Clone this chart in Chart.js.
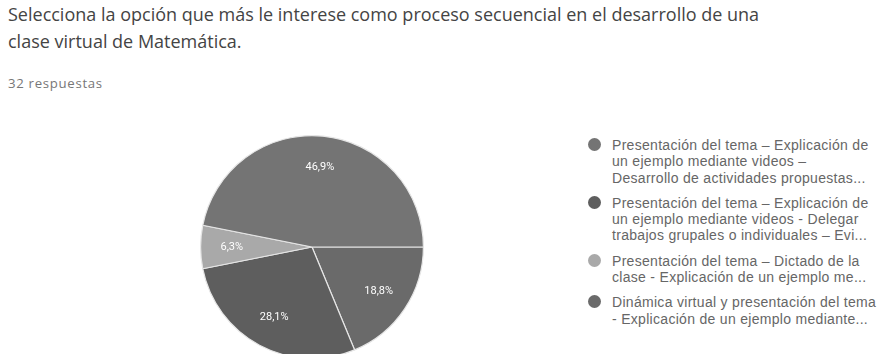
<!DOCTYPE html>
<html>
<head>
<meta charset="utf-8">
<script src="https://cdn.jsdelivr.net/npm/chart.js@4"></script>
<style>
  html, body { margin: 0; padding: 0; background: #fff; }
  body { width: 884px; height: 354px; overflow: hidden; position: relative; font-family: Roboto, Arial, sans-serif; }
  .titulo { position: absolute; left: 8px; top: 1px; width: 876px; font-family: "Open Sans", sans-serif; font-size: 18px; line-height: 27px; color: #444; white-space: nowrap; }
  .total { position: absolute; left: 8px; top: 74px; font-family: "Open Sans", sans-serif; font-size: 13.2px; letter-spacing: 0.7px; color: #777; }
  .pie { position: absolute; left: 200px; top: 135px; width: 224px; height: 224px; }
  .leyenda { position: absolute; left: 588px; top: 137px; width: 296px; }
  .item { position: relative; padding-left: 24px; margin-bottom: 9px; font-family: "Liberation Sans", Arial, sans-serif; font-size: 14px; letter-spacing: 0.3px; line-height: 16.3px; color: #666; white-space: nowrap; }
  .item i { position: absolute; left: 0; top: 1px; width: 13px; height: 13px; border-radius: 50%; }
</style>
</head>
<body>
<div class="titulo">Selecciona la opción que más le interese como proceso secuencial en el desarrollo de una<br>clase virtual de Matemática.</div>
<div class="total">32 respuestas</div>
<div class="pie"><canvas id="torta"></canvas></div>
<div class="leyenda" id="leyenda"></div>
<script>
// opciones, tal como aparecen en la leyenda (texto ya recortado)
const opciones = [
  ['Presentación del tema – Explicación de', 'un ejemplo mediante videos –', 'Desarrollo de actividades propuestas...'],
  ['Presentación del tema – Explicación de', 'un ejemplo mediante videos - Delegar', 'trabajos grupales o individuales – Evi...'],
  ['Presentación del tema – Dictado de la', 'clase - Explicación de un ejemplo me...'],
  ['Dinámica virtual y presentación del tema', '- Explicación de un ejemplo mediante...']
];
const respuestas = [15, 9, 2, 6];
const colores = ['#747474', '#5e5e5e', '#a9a9a9', '#6a6a6a'];
// orden en que se dibujan las porciones, empezando a las 3 en punto
const ordenTorta = [3, 1, 2, 0];

const total = respuestas.reduce((a, b) => a + b, 0);
const pct = v => (v / total * 100).toFixed(1).replace('.', ',') + '%';

// leyenda
const ley = document.getElementById('leyenda');
opciones.forEach((lineas, i) => {
  const d = document.createElement('div');
  d.className = 'item';
  d.innerHTML = '<i style="background:' + colores[i] + '"></i>' + lineas.join('<br>');
  ley.appendChild(d);
});

// porcentajes dentro de cada porción
const etiquetas = {
  id: 'etiquetas',
  afterDatasetsDraw(chart) {
    const { ctx } = chart;
    const meta = chart.getDatasetMeta(0);
    const valores = chart.data.datasets[0].data;
    ctx.save();
    ctx.font = '11px Roboto, Arial, sans-serif';
    ctx.fillStyle = '#fff';
    ctx.textAlign = 'center';
    ctx.textBaseline = 'middle';
    meta.data.forEach((arc, i) => {
      const p = arc.getProps(['x', 'y', 'startAngle', 'endAngle', 'outerRadius']);
      const a = (p.startAngle + p.endAngle) / 2;
      const r = p.outerRadius * 0.72;
      ctx.fillText(pct(valores[i]), p.x + Math.cos(a) * r, p.y + Math.sin(a) * r);
    });
    ctx.restore();
  }
};

new Chart(document.getElementById('torta'), {
  type: 'pie',
  data: {
    labels: ordenTorta.map(i => opciones[i].join(' ')),
    datasets: [{
      data: ordenTorta.map(i => respuestas[i]),
      backgroundColor: ordenTorta.map(i => colores[i]),
      borderColor: '#e6e6e6',
      borderWidth: 1.2
    }]
  },
  options: {
    responsive: true,
    maintainAspectRatio: false,
    animation: false,
    rotation: 90,
    layout: { padding: 0 },
    plugins: { legend: { display: false }, tooltip: { enabled: false } }
  },
  plugins: [etiquetas]
});
</script>
</body>
</html>
